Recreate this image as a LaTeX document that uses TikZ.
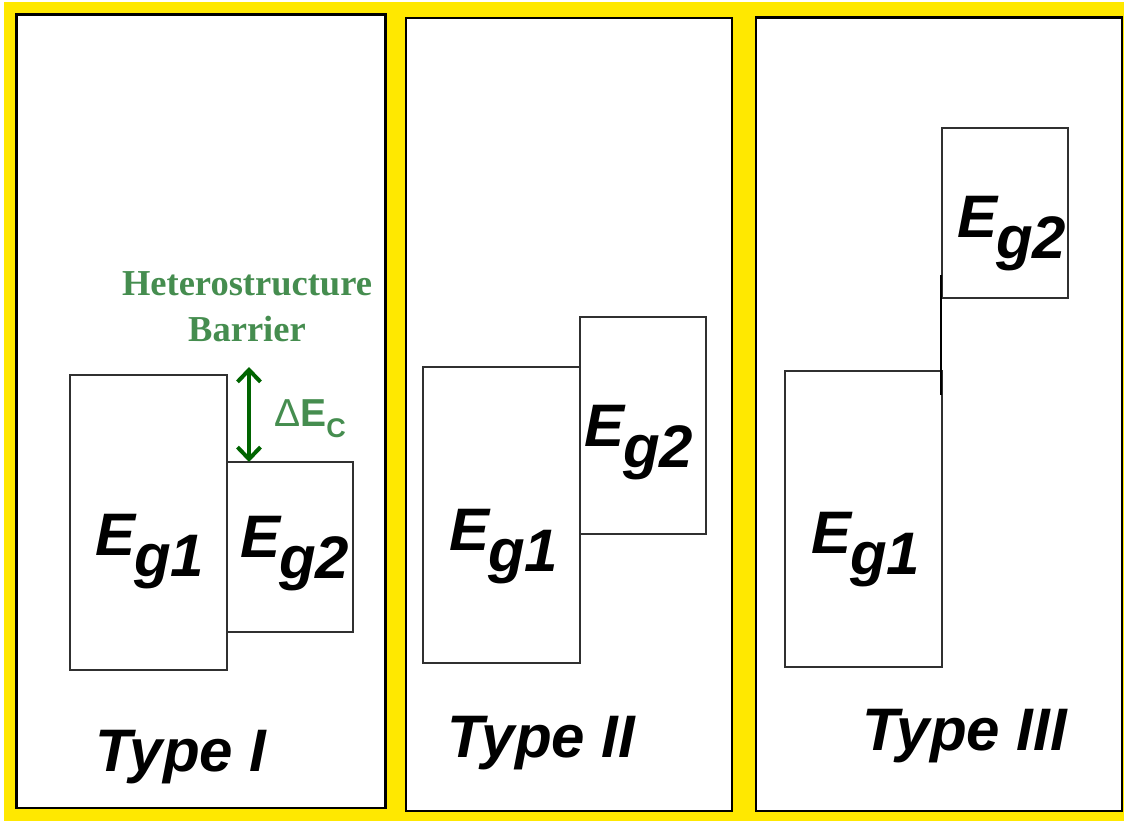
\documentclass[tikz,border=0pt]{standalone}
\usepackage{fontspec}
\setmainfont{Liberation Sans}
\newfontfamily\serifgreen{Liberation Serif}
\usetikzlibrary{arrows.meta}
\definecolor{bgyellow}{HTML}{FFE800}
\definecolor{txtgreen}{HTML}{458D4F}
\definecolor{arrgreen}{HTML}{006400}
\definecolor{boxline}{HTML}{303030}
\tikzset{
  panel/.style={draw=black, line width=2.8pt, fill=white},
  band/.style={draw=boxline, line width=1.4pt},
  eg/.style={anchor=base west, inner sep=0pt, font=\fontsize{60}{62}\selectfont\bfseries\itshape},
  typelbl/.style={anchor=base west, inner sep=0pt, font=\fontsize{60}{62}\selectfont\bfseries\itshape},
  barrier/.style={inner sep=0pt, align=center, text=txtgreen, font=\fontsize{36.5}{46}\selectfont\serifgreen\bfseries},
}
\newcommand{\Eg}[1]{E\kern-1pt\raisebox{-21pt}{g#1}}
\begin{document}
\begin{tikzpicture}[x=1pt,y=-1pt]
\useasboundingbox (0,0) rectangle (1124,821);
\fill[bgyellow] (4,2) rectangle (1124,821);
% panels
\draw[panel] (16.5,14.5) rectangle (385.5,808);
\draw[panel] (406,18) rectangle (732,811);
\draw[panel] (756,17.5) rectangle (1122,811);
% Type I
\draw[band] (70,375) rectangle (227,670);
\draw[band] (227,462) rectangle (353,632);
\node[eg] (t1a) at (95,555) {\Eg{1}};
\node[eg] (t1b) at (240,557) {\Eg{2}};
\node[barrier] (het) at (247,307) {Heterostructure\\Barrier};
\coordinate (atop) at (249,367);
\coordinate (abot) at (249,462);
\draw[arrgreen, line width=4pt, {Straight Barb[length=12pt,width=23pt]}-{Straight Barb[length=12pt,width=23pt]}] (atop) -- (abot);
\node[anchor=base west, inner sep=0pt, text=txtgreen, font=\fontsize{39}{40}\selectfont\bfseries] (dec) at (274,426) {{\mdseries Δ}E\raisebox{-11pt}{\fontsize{27}{28}\selectfont C}};
\node[typelbl] (ty1) at (95,771) {Type I};
% Type II
\draw[band] (423,367) rectangle (580,663);
\draw[band] (580,317) rectangle (706,534);
\node[eg] (t2a) at (449,550) {\Eg{1}};
\node[eg] (t2b) at (584,446) {\Eg{2}};
\node[typelbl] (ty2) at (447,757) {Type II};
% Type III
\draw[band] (785,371) rectangle (942,667);
\draw[band] (942,128) rectangle (1068,298);
\draw[black, line width=2.4pt] (941,275) -- (941,395);
\node[eg] (t3a) at (811,553) {\Eg{1}};
\node[eg] (t3b) at (957,237) {\Eg{2}};
\node[typelbl] (ty3) at (862,750) {Type III};
\end{tikzpicture}
\end{document}
